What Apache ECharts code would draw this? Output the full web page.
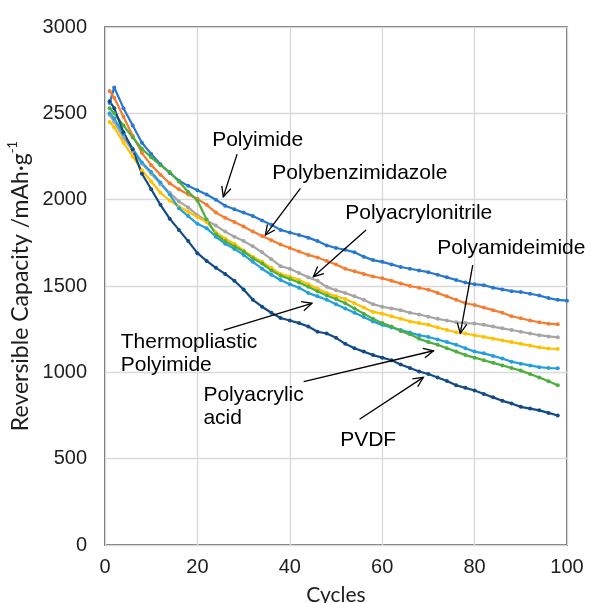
<!DOCTYPE html>
<html>
<head>
<meta charset="utf-8">
<script src="https://cdn.jsdelivr.net/npm/echarts@6/dist/echarts.min.js"></script>
<style>html,body{margin:0;padding:0;background:#fff}#main{width:590px;height:603px}</style>
</head>
<body>
<div id="main"></div>
<script>
// cycle numbers (x) and reversible capacity (mAh/g) per binder
var cycles = [1,2,4,6,8,10,12,14,16,18,20,22,24,26,28,30,32,34,36,38,40,42,44,46,48,50,
  52,54,56,58,60,62,64,66,68,70,72,74,76,78,80,82,84,86,88,90,92,94,96,98,100];

var polyimide = [2560,2650,2530,2430,2330,2265,2205,2155,2110,2080,2055,2030,2000,1965,1945,1925,
  1905,1880,1855,1825,1810,1795,1780,1760,1735,1720,1710,1695,1670,1650,1640,1625,1610,1600,1590,
  1580,1565,1550,1535,1520,1510,1505,1490,1480,1470,1465,1455,1445,1430,1420,1415];
var polybenzimidazole = [2630,2590,2480,2370,2270,2200,2145,2095,2060,2030,2005,1970,1925,1895,1870,
  1845,1815,1790,1765,1740,1720,1700,1680,1665,1645,1625,1600,1585,1570,1555,1545,1530,1515,1500,
  1490,1478,1460,1440,1420,1400,1390,1375,1360,1345,1325,1313,1300,1290,1282,1278,null];
var polyacrylonitrile = [2490,2450,2360,2280,2210,2150,2090,2040,1990,1955,1910,1880,1850,1815,1785,
  1760,1730,1695,1655,1615,1600,1575,1550,1530,1495,1475,1460,1440,1420,1395,1380,1370,1360,1345,
  1335,1322,1310,1300,1290,1285,1283,1275,1265,1255,1245,1235,1225,1215,1208,1203,null];
var polyamideimide = [2450,2420,2330,2250,2170,2105,2040,1995,1960,1930,1900,1870,1810,1775,1745,
  1705,1670,1640,1605,1570,1555,1535,1510,1485,1460,1440,1425,1400,1375,1350,1340,1325,1310,1295,
  1285,1275,1260,1245,1232,1225,1215,1205,1195,1185,1175,1165,1155,1145,1138,1135,null];
var thermoplasticPI = [2500,2470,2380,2295,2215,2160,2100,2030,1950,1905,1860,1835,1785,1745,1715,
  1680,1640,1600,1565,1535,1510,1490,1460,1440,1420,1395,1370,1345,1320,1295,1275,1260,1245,1230,
  1215,1205,1190,1175,1160,1140,1120,1110,1095,1080,1062,1050,1040,1030,1025,1023,null];
var polyacrylicAcid = [2530,2500,2430,2360,2295,2245,2200,2160,2105,2045,1995,1885,1800,1760,1730,
  1700,1660,1630,1590,1560,1540,1520,1495,1470,1445,1425,1400,1370,1340,1310,1285,1265,1240,1220,
  1195,1175,1160,1140,1120,1100,1085,1070,1055,1040,1025,1010,990,970,948,925,null];
var pvdf = [2570,2530,2390,2290,2150,2060,1970,1890,1825,1760,1690,1645,1605,1570,1530,1480,1420,
  1380,1345,1315,1300,1285,1265,1235,1225,1200,1165,1140,1120,1100,1085,1070,1045,1025,1005,990,
  970,950,925,910,895,875,855,835,820,800,790,780,765,750,null];

var names = ['Polyimide','Polybenzimidazole','Polyacrylonitrile','Polyamideimide',
  'Thermoplastic Polyimide','Polyacrylic acid','PVDF'];
var values = [polyimide, polybenzimidazole, polyacrylonitrile, polyamideimide,
  thermoplasticPI, polyacrylicAcid, pvdf];
var colors = ['#2878cc','#f47d30','#a5a5a5','#ffc000','#21a0db','#4caf3c','#134b85'];

var xTicks = [0, 20, 40, 60, 80, 100];
var yTicks = [0, 500, 1000, 1500, 2000, 2500, 3000];

// callouts in data coordinates: label anchor, arrow tail, arrow tip
var notes = [
  {text: 'Polyimide', at: [23.2, 2339], from: [28.6, 2264], to: [25.6, 2017]},
  {text: 'Polybenzimidazole', at: [36.2, 2148], from: [42.3, 2065], to: [34.7, 1795]},
  {text: 'Polyacrylonitrile', at: [52.0, 1917], from: [56.5, 1824], to: [45.1, 1554]},
  {text: 'Polyamideimide', at: [71.9, 1714], from: [79.6, 1621], to: [76.9, 1226]},
  {text: 'Thermopliastic\nPolyimide', at: [3.4, 1173], from: [25.7, 1245], to: [44.8, 1400]},
  {text: 'Polyacrylic\nacid', at: [21.3, 863], from: [43.0, 946], to: [71.1, 1125]},
  {text: 'PVDF', at: [50.9, 602], from: [55.1, 728], to: [68.9, 971]}
];

var chart = echarts.init(document.getElementById('main'));
var tickFont = {fontFamily: 'Liberation Sans', fontSize: 20, color: '#1e1e1e',
  formatter: function(v) { return String(v); }};
var gridLine = {show: true, lineStyle: {color: '#d9d9d9', width: 1.3}};

var series = names.map(function(n, i) {
  return {
    name: n,
    type: 'line',
    data: cycles.map(function(c, k) { return [c, values[i][k]]; }),
    color: colors[i],
    symbol: 'circle',
    symbolSize: 4,
    lineStyle: {width: 2.2},
    silent: true,
    animation: false
  };
});

chart.setOption({
  animation: false,
  grid: {left: 105, right: 23, top: 27, bottom: 58, show: true, outerBoundsMode: 'none',
    containLabel: false, borderColor: '#404040', borderWidth: 1.5, backgroundColor: '#fff'},
  xAxis: {
    type: 'value', min: xTicks[0], max: xTicks[xTicks.length - 1], interval: 20,
    name: 'Cycles', nameLocation: 'middle', nameGap: 40,
    nameTextStyle: {fontFamily: 'Lato', fontSize: 21, color: '#1e1e1e'},
    axisLine: {show: false}, axisTick: {show: false},
    axisLabel: Object.assign({margin: 12}, tickFont),
    splitLine: gridLine
  },
  yAxis: {
    type: 'value', min: yTicks[0], max: yTicks[yTicks.length - 1], interval: 500,
    name: '{a|Reversible Capacity /mAh·g}{s|-1}', nameLocation: 'middle', nameGap: 68,
    nameTextStyle: {
      rich: {
        a: {fontFamily: 'Lato', fontSize: 23, color: '#1e1e1e', lineHeight: 28},
        s: {fontFamily: 'Lato', fontSize: 13, color: '#1e1e1e', verticalAlign: 'top', lineHeight: 13}
      }
    },
    axisLine: {show: false}, axisTick: {show: false},
    axisLabel: Object.assign({margin: 18}, tickFont),
    splitLine: gridLine
  },
  series: series
});

function px(p) { return chart.convertToPixel({gridIndex: 0}, p); }

var graphics = [];
notes.forEach(function(n) {
  var a = px(n.at), p0 = px(n.from), p1 = px(n.to);
  var ang = Math.atan2(p1[1] - p0[1], p1[0] - p0[0]), L = 11, s = 0.45;
  var h1 = [p1[0] - L * Math.cos(ang - s), p1[1] - L * Math.sin(ang - s)];
  var h2 = [p1[0] - L * Math.cos(ang + s), p1[1] - L * Math.sin(ang + s)];
  graphics.push({
    type: 'text', x: a[0], y: a[1] - 12, z: 100,
    style: {text: n.text, fontFamily: 'Liberation Sans', fontSize: 21, lineHeight: 23,
      fill: '#000', verticalAlign: 'top'}
  });
  graphics.push({
    type: 'line', z: 100,
    shape: {x1: p0[0], y1: p0[1], x2: p1[0], y2: p1[1]},
    style: {stroke: '#000', lineWidth: 1.3}
  });
  graphics.push({
    type: 'polyline', z: 100,
    shape: {points: [h1, p1, h2]},
    style: {stroke: '#000', fill: null, lineWidth: 1.3}
  });
});
chart.setOption({graphic: graphics});
</script>
</body>
</html>
